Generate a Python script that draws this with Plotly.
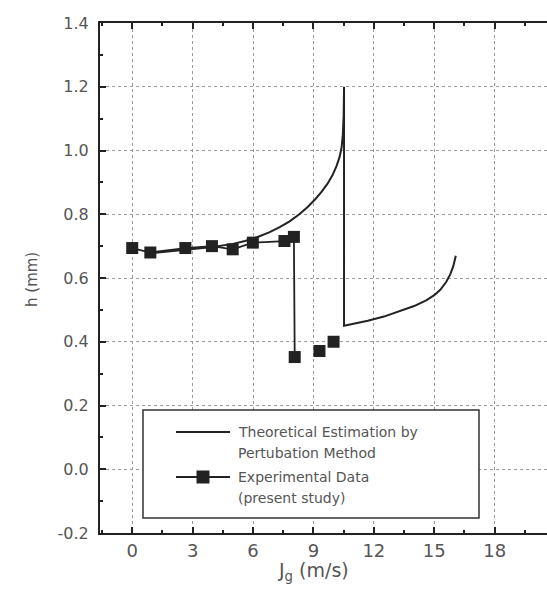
import plotly.graph_objects as go

# Theoretical curve (perturbation method)
theo_x = [0.9, 2.0, 3.0, 4.0, 5.0, 5.6, 6.2, 6.8, 7.3, 7.8, 8.3, 8.7, 9.1, 9.4, 9.7, 9.95, 10.15, 10.3, 10.4,
          10.46, 10.5, 10.52,
          10.52, 11.0, 11.7, 12.5, 13.3, 14.0, 14.6, 15.0, 15.3, 15.6, 15.8, 15.95, 16.07]
theo_y = [0.678, 0.684, 0.690, 0.697, 0.707, 0.716, 0.728, 0.743, 0.759, 0.777, 0.8, 0.822, 0.848, 0.87, 0.896, 0.923, 0.952, 0.98, 1.01,
          1.05, 1.11, 1.20,
          0.45, 0.456, 0.466, 0.479, 0.496, 0.512, 0.53, 0.546, 0.563, 0.588, 0.612, 0.638, 0.67]

# Experimental data (connected part, then separate points)
exp_x = [0.0, 0.9, 2.64, 3.96, 4.99, 5.99, 7.56, 8.03, 8.07]
exp_y = [0.694, 0.68, 0.694, 0.70, 0.69, 0.711, 0.716, 0.729, 0.352]
exp2_x = [9.3, 10.0]
exp2_y = [0.371, 0.40]

x_ticks = [0, 3, 6, 9, 12, 15, 18]
y_ticks = [-0.2, 0.0, 0.2, 0.4, 0.6, 0.8, 1.0, 1.2, 1.4]
y_ticklabels = ["-0.2", "0.0", "0.2", "0.4", "0.6", "0.8", "1.0", "1.2", "1.4"]

legend_lines = ["Theoretical Estimation by", "Pertubation Method",
                "Experimental Data", "(present study)"]

FONT = "DejaVu Sans, Liberation Sans, sans-serif"
INK = "#222222"
TXT = "#555555"

# figure geometry (pixels)
W, H = 547, 604
ML, MR, MT, MB = 100, 0, 23, 71
PW, PH = W - ML - MR, H - MT - MB


def px(x):
    return (x - ML) / PW


def py(y):
    return (H - MB - y) / PH


fig = go.Figure()
fig.add_trace(go.Scatter(
    x=theo_x, y=theo_y, mode="lines", line=dict(color=INK, width=2),
    showlegend=False))
fig.add_trace(go.Scatter(
    x=exp_x, y=exp_y, mode="lines+markers",
    line=dict(color=INK, width=1.8),
    marker=dict(symbol="square", size=12, color=INK),
    showlegend=False))
fig.add_trace(go.Scatter(
    x=exp2_x, y=exp2_y, mode="markers",
    marker=dict(symbol="square", size=12, color=INK),
    showlegend=False))

axis_common = dict(
    showline=True, linecolor=INK, linewidth=2,
    ticks="inside", ticklen=6, tickwidth=1.5, tickcolor=INK,
    showgrid=True, gridcolor="#9a9a9a", griddash="dot", gridwidth=1,
    zeroline=False,
)

# manual legend box
shapes = [
    dict(type="rect", xref="paper", yref="paper", x0=px(143), x1=px(479), y0=py(518), y1=py(410),
         fillcolor="white", line=dict(color="#333333", width=1.5), layer="above"),
    dict(type="line", xref="paper", yref="paper", x0=px(176), x1=px(230), y0=py(432), y1=py(432),
         line=dict(color=INK, width=2), layer="above"),
    dict(type="line", xref="paper", yref="paper", x0=px(176), x1=px(230), y0=py(477), y1=py(477),
         line=dict(color=INK, width=2), layer="above"),
    dict(type="rect", xref="paper", yref="paper", x0=px(196.5), x1=px(209.5), y0=py(483.5), y1=py(470.5),
         fillcolor=INK, line=dict(color=INK, width=0), layer="above"),
]

annotations = [
    dict(text="h (mm)", xref="paper", yref="paper", x=px(21), y=py(280),
         textangle=-90, showarrow=False, font=dict(family=FONT, size=15, color=TXT)),
    dict(text="J<sub>g</sub> (m/s)", xref="paper", yref="paper", x=px(313), y=py(586),
         showarrow=False, font=dict(family=FONT, size=19, color=TXT)),
]
for txt, yy in zip(legend_lines, [432, 453, 477, 498]):
    annotations.append(dict(text=txt, xref="paper", yref="paper", x=px(236), y=py(yy),
                            xanchor="left", yanchor="middle", showarrow=False,
                            font=dict(family=FONT, size=14, color=TXT)))

fig.update_layout(
    width=W, height=H,
    margin=dict(l=ML, r=MR, t=MT, b=MB),
    paper_bgcolor="white", plot_bgcolor="white",
    font=dict(family=FONT, color=TXT),
    xaxis=dict(range=[-1.6, 20.6], tickvals=x_ticks, mirror="allticks",
               tickfont=dict(family=FONT, size=18, color=TXT),
               minor=dict(dtick=1.5, tick0=0, ticks="inside", ticklen=3, tickcolor=INK, showgrid=False),
               **axis_common),
    yaxis=dict(range=[-0.2, 1.4], tickvals=y_ticks, ticktext=y_ticklabels, mirror=False,
               tickfont=dict(family=FONT, size=16, color=TXT), ticklabelstandoff=6,
               minor=dict(dtick=0.1, tick0=0, ticks="inside", ticklen=3, tickcolor=INK, showgrid=False),
               **axis_common),
    shapes=shapes,
    annotations=annotations,
    showlegend=False,
)

fig.write_html("out.html")
